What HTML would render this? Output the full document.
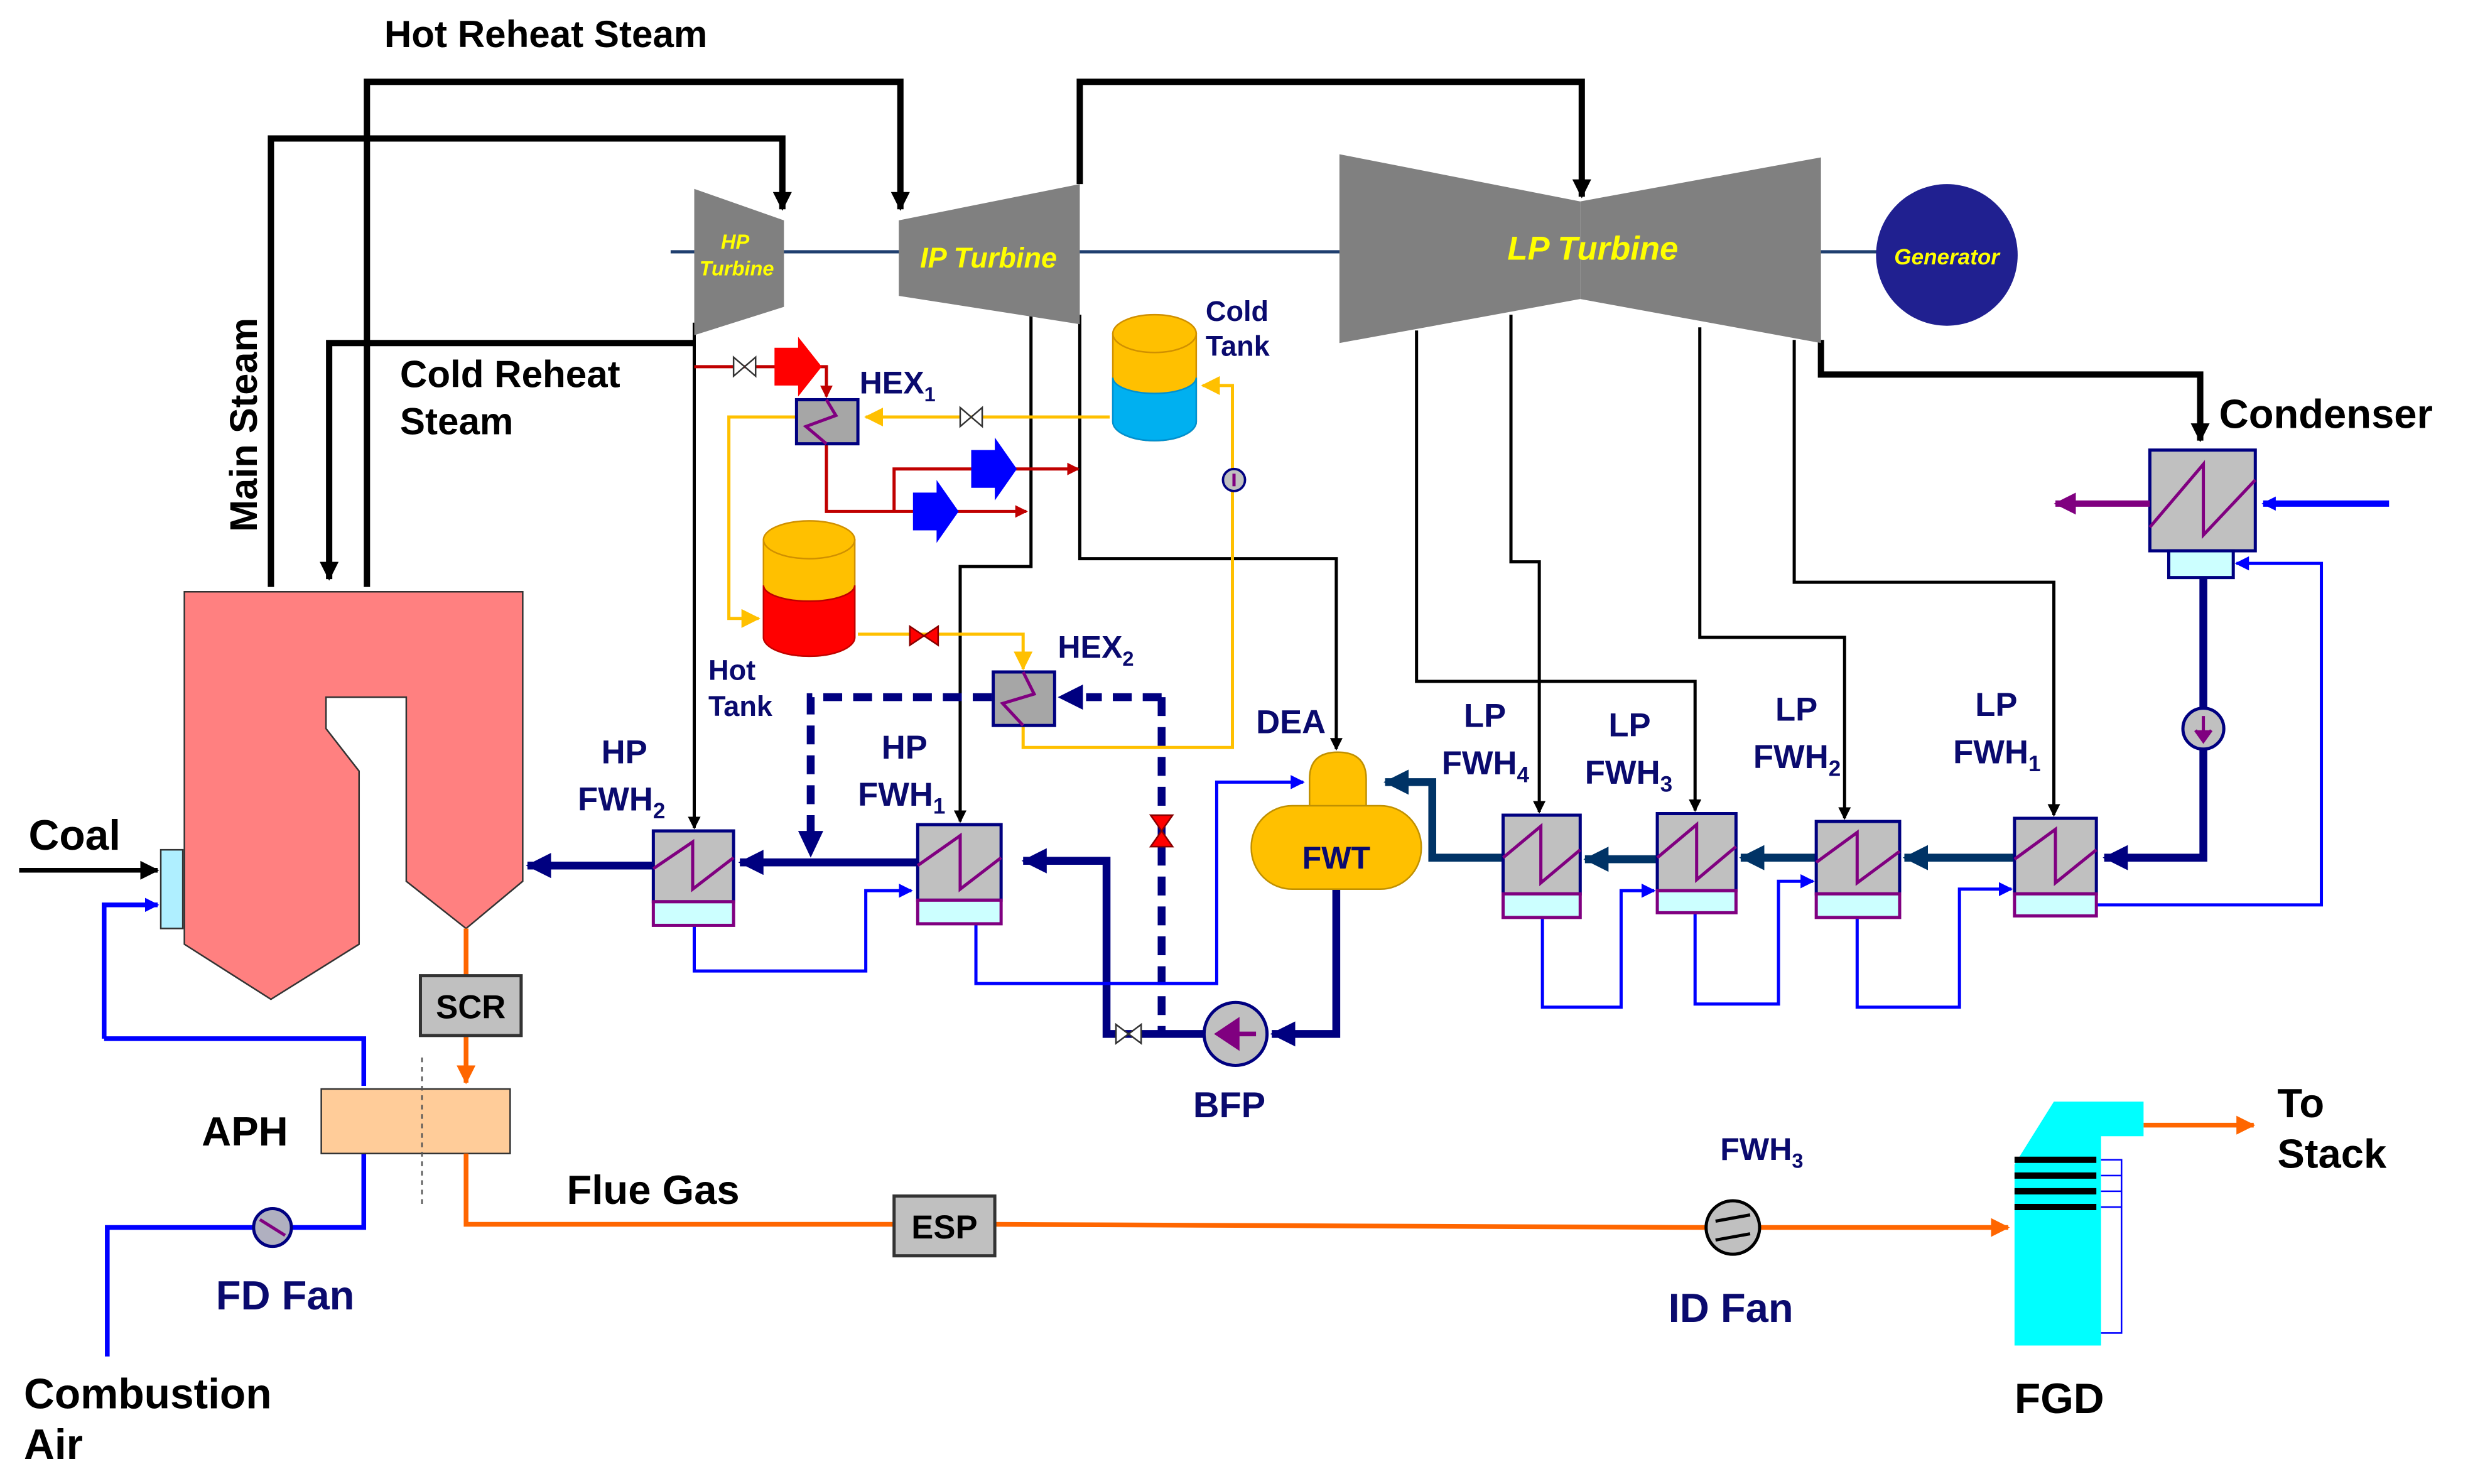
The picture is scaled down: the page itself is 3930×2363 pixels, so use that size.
<!DOCTYPE html>
<html><head><meta charset="utf-8"><style>
html,body{margin:0;padding:0;background:#fff}
svg{display:block}
text{font-family:"Liberation Sans",sans-serif;font-weight:bold}
.n{fill:#0A0A6E}
</style></head><body>
<svg width="3930" height="2363" viewBox="0 0 1568 943" xmlns="http://www.w3.org/2000/svg">
<defs>
<marker id="ab" markerWidth="8" markerHeight="8" refX="7" refY="4" orient="auto" markerUnits="userSpaceOnUse"><path d="M0,0L8,4L0,8z" fill="#000"/></marker>
<marker id="abk" markerWidth="12" markerHeight="12" refX="11" refY="6" orient="auto" markerUnits="userSpaceOnUse"><path d="M0,0L12,6L0,12z" fill="#000"/></marker>
<marker id="an" markerWidth="16" markerHeight="16" refX="15" refY="8" orient="auto" markerUnits="userSpaceOnUse"><path d="M0,0L16,8L0,16z" fill="#000080"/></marker>
<marker id="and" markerWidth="16" markerHeight="16" refX="15" refY="8" orient="auto" markerUnits="userSpaceOnUse"><path d="M0,0L16,8L0,16z" fill="#003366"/></marker>
<marker id="abl" markerWidth="9" markerHeight="9" refX="8" refY="4.5" orient="auto" markerUnits="userSpaceOnUse"><path d="M0,0L9,4.5L0,9z" fill="#0000FF"/></marker>
<marker id="ao" markerWidth="12" markerHeight="12" refX="11" refY="6" orient="auto" markerUnits="userSpaceOnUse"><path d="M0,0L12,6L0,12z" fill="#FF6600"/></marker>
<marker id="ay" markerWidth="12" markerHeight="12" refX="11" refY="6" orient="auto" markerUnits="userSpaceOnUse"><path d="M0,0L12,6L0,12z" fill="#FFC000"/></marker>
<marker id="ar" markerWidth="8" markerHeight="8" refX="7" refY="4" orient="auto" markerUnits="userSpaceOnUse"><path d="M0,0L8,4L0,8z" fill="#C00000"/></marker>
<marker id="ap" markerWidth="14" markerHeight="14" refX="13" refY="7" orient="auto" markerUnits="userSpaceOnUse"><path d="M0,0L14,7L0,14z" fill="#800080"/></marker>
</defs>

<g fill="none" stroke="#000" stroke-width="4">
<path d="M172,373V88H497V133" marker-end="url(#abk)"/>
<path d="M233,373V52H572V133" marker-end="url(#abk)"/>
<path d="M441,218H209V368" marker-end="url(#abk)"/>
<path d="M686,117V52H1005V125" marker-end="url(#abk)"/>
<path d="M1157,216V238H1398V280" marker-end="url(#abk)"/>
</g>
<g fill="none" stroke="#000" stroke-width="2">
<path d="M441,205V526" marker-end="url(#ab)"/>
<path d="M655,195V360H610V522" marker-end="url(#ab)"/>
<path d="M686,200V355H849V476" marker-end="url(#ab)"/>
<path d="M900,210V433H1077V515" marker-end="url(#ab)"/>
<path d="M960,200V357H978V516" marker-end="url(#ab)"/>
<path d="M1080,208V405H1172V520" marker-end="url(#ab)"/>
<path d="M1140,216V370H1305V518" marker-end="url(#ab)"/>
</g>

<line x1="426" y1="160" x2="1195" y2="160" stroke="#1F3F6F" stroke-width="2"/>
<polygon points="441,120 498,140 498,195 441,213" fill="#808080"/>
<polygon points="571,140 686,117 686,206 571,188" fill="#808080"/>
<polygon points="851,98 1004,128 1004,190 851,218" fill="#808080"/>
<polygon points="1004,128 1157,100 1157,218 1004,190" fill="#808080"/>
<text x="467" y="158" font-size="13" fill="#FFFF00" font-style="italic" text-anchor="middle">HP</text>
<text x="468" y="175" font-size="13" fill="#FFFF00" font-style="italic" text-anchor="middle">Turbine</text>
<text x="628" y="170" font-size="18" fill="#FFFF00" font-style="italic" text-anchor="middle">IP Turbine</text>
<text x="1012" y="165" font-size="21" fill="#FFFF00" font-style="italic" text-anchor="middle">LP Turbine</text>
<circle cx="1237" cy="162" r="45" fill="#202090"/>
<text x="1237" y="168" font-size="14" fill="#FFFF00" font-style="italic" text-anchor="middle">Generator</text>

<text x="244" y="30" font-size="24" fill="#000">Hot Reheat Steam</text>
<text x="254" y="246" font-size="24" fill="#000">Cold Reheat</text>
<text x="254" y="276" font-size="24" fill="#000">Steam</text>
<text transform="translate(163,338) rotate(-90)" font-size="24.5" fill="#000">Main Steam</text>

<polygon points="117,376 332,376 332,560 296,590 258,560 258,443 207,443 207,463 228,490 228,600 172,635 117,600" fill="#FF8080" stroke="#333" stroke-width="1"/>
<rect x="102" y="540" width="14" height="50" fill="#AFEFFF" stroke="#333"/>
<path d="M12,553H100" stroke="#000" stroke-width="3" marker-end="url(#abk)"/>
<text x="18" y="540" font-size="27" fill="#000">Coal</text>

<g fill="none" stroke="#0000FF" stroke-width="3">
<path d="M66,660V575H100" marker-end="url(#abl)"/>
<path d="M66,660H231V690"/>
<path d="M68,862V780H161"/>
<path d="M185,780H231V696" marker-end="url(#abl)"/>
</g>
<circle cx="173" cy="780" r="12" fill="#B0B0C0" stroke="#000080" stroke-width="2"/>
<line x1="165" y1="775" x2="181" y2="785" stroke="#800080" stroke-width="2"/>
<rect x="204" y="692" width="120" height="41" fill="#FFCC99" stroke="#333"/>
<line x1="268" y1="672" x2="268" y2="768" stroke="#555" stroke-width="1" stroke-dasharray="3,3"/>
<text x="128" y="728" font-size="26" fill="#000">APH</text>
<text x="137" y="832" font-size="26" class="n">FD Fan</text>
<text x="15" y="895" font-size="27" fill="#000">Combustion</text>
<text x="15" y="927" font-size="27" fill="#000">Air</text>

<g fill="none" stroke="#FF6600" stroke-width="3">
<path d="M296,590V620"/>
<path d="M296,658V688" marker-end="url(#ao)"/>
<path d="M296,733V778H568"/>
<path d="M632,778L1084,780"/>
<path d="M1118,780H1276" marker-end="url(#ao)"/>
<path d="M1362,715H1432" marker-end="url(#ao)"/>
</g>
<rect x="267" y="620" width="64" height="38" fill="#C0C0C0" stroke="#333" stroke-width="2"/>
<text x="299" y="647" font-size="21" fill="#000" text-anchor="middle">SCR</text>
<rect x="568" y="760" width="64" height="38" fill="#C0C0C0" stroke="#333" stroke-width="2"/>
<text x="600" y="787" font-size="21" fill="#000" text-anchor="middle">ESP</text>
<text x="360" y="765" font-size="26" fill="#000">Flue Gas</text>
<circle cx="1101" cy="780" r="17" fill="#C0C0C0" stroke="#000" stroke-width="2"/>
<path d="M1090,776L1112,772M1090,788L1112,784" stroke="#000" stroke-width="2"/>
<text x="1060" y="840" font-size="26" class="n">ID Fan</text>
<text x="1093" y="737" font-size="20" class="n">FWH<tspan font-size="13" dy="5">3</tspan></text>

<polygon points="1280,740 1305,700 1362,700 1362,722 1335,722 1335,855 1280,855" fill="#00FFFF"/>
<g stroke="#000" stroke-width="4"><line x1="1280" y1="737" x2="1332" y2="737"/><line x1="1280" y1="747" x2="1332" y2="747"/><line x1="1280" y1="757" x2="1332" y2="757"/><line x1="1280" y1="767" x2="1332" y2="767"/></g>
<path d="M1335,847H1348V737H1335M1335,747H1348M1335,757H1348M1335,767H1348" fill="none" stroke="#0000FF" stroke-width="1"/>
<text x="1280" y="898" font-size="27" fill="#000">FGD</text>
<text x="1447" y="710" font-size="26" fill="#000">To</text>
<text x="1447" y="742" font-size="26" fill="#000">Stack</text>

<g fill="none" stroke-width="5">
<path d="M1400,367V545H1337" stroke="#000080" marker-end="url(#an)"/>
<path d="M1280,545H1210" stroke="#003366" marker-end="url(#and)"/>
<path d="M1154,545H1106" stroke="#003366" marker-end="url(#and)"/>
<path d="M1053,546H1007" stroke="#003366" marker-end="url(#and)"/>
<path d="M955,545H910V497H880" stroke="#003366" marker-end="url(#and)"/>
<path d="M849,565V657H808" stroke="#000080" marker-end="url(#an)"/>
<path d="M765,657H703V547H650" stroke="#000080" marker-end="url(#an)"/>
<path d="M583,548H470" stroke="#000080" marker-end="url(#an)"/>
<path d="M415,550H335" stroke="#000080" marker-end="url(#an)"/>
</g>
<g fill="none" stroke="#000080" stroke-width="5" stroke-dasharray="12,7">
<path d="M630,443H515V530"/>
<path d="M738,443V657"/>
<path d="M738,443H690"/>
</g>
<path d="M507,528L515,545L523,528z" fill="#000080"/>
<path d="M688,435L672,443L688,451z" fill="#000080"/>
<path d="M731,518L745,518L738,528L745,538L731,538L738,528z" fill="#FF0000" stroke="#800" stroke-width="1"/>
<path d="M709,651L709,663L717,657L725,651L725,663L717,657z" fill="#fff" stroke="#333" stroke-width="1"/>

<g fill="none" stroke="#0000FF" stroke-width="2">
<path d="M441,588V617H550V566H579" marker-end="url(#abl)"/>
<path d="M620,587V625H773V497H828" marker-end="url(#abl)"/>
<path d="M980,583V640H1030V566H1051" marker-end="url(#abl)"/>
<path d="M1077,580V638H1130V560H1152" marker-end="url(#abl)"/>
<path d="M1180,583V640H1245V565H1278" marker-end="url(#abl)"/>
<path d="M1332,575H1475V358H1421" marker-end="url(#abl)"/>
</g>

<g stroke-width="2">
<rect x="415" y="528" width="51" height="45" fill="#C0C0C0" stroke="#000080"/><rect x="415" y="573" width="51" height="15" fill="#CCFFFF" stroke="#800080"/>
<rect x="583" y="524" width="53" height="48" fill="#C0C0C0" stroke="#000080"/><rect x="583" y="572" width="53" height="15" fill="#CCFFFF" stroke="#800080"/>
<rect x="955" y="518" width="49" height="50" fill="#C0C0C0" stroke="#000080"/><rect x="955" y="568" width="49" height="15" fill="#CCFFFF" stroke="#800080"/>
<rect x="1053" y="517" width="50" height="49" fill="#C0C0C0" stroke="#000080"/><rect x="1053" y="566" width="50" height="14" fill="#CCFFFF" stroke="#800080"/>
<rect x="1154" y="522" width="53" height="46" fill="#C0C0C0" stroke="#000080"/><rect x="1154" y="568" width="53" height="15" fill="#CCFFFF" stroke="#800080"/>
<rect x="1280" y="520" width="52" height="48" fill="#C0C0C0" stroke="#000080"/><rect x="1280" y="568" width="52" height="14" fill="#CCFFFF" stroke="#800080"/>
<rect x="1366" y="286" width="67" height="64" fill="#C0C0C0" stroke="#000080"/><rect x="1378" y="350" width="41" height="17" fill="#CCFFFF" stroke="#000080"/>
</g>
<g fill="none" stroke="#800080" stroke-width="2">
<path d="M415,552L440,535V565L466,545"/>
<path d="M583,550L610,531V565L636,545"/>
<path d="M955,545L979,525V561L1004,540"/>
<path d="M1053,545L1078,524V559L1103,538"/>
<path d="M1154,548L1180,529V561L1207,541"/>
<path d="M1280,546L1306,527V561L1332,540"/>
<path d="M1366,335L1400,295V340L1433,305"/>
</g>
<path d="M1518,320H1438" stroke="#0000FF" stroke-width="4" marker-end="url(#abl)"/>
<path d="M1366,320H1306" stroke="#800080" stroke-width="4" marker-end="url(#ap)"/>
<text x="1410" y="272" font-size="26" fill="#000">Condenser</text>
<ellipse cx="1400" cy="463" rx="13" ry="13" fill="#C0C0C0" stroke="#000080" stroke-width="2"/>
<path d="M1400,455V468M1395,464L1400,471L1405,464" stroke="#800080" stroke-width="2" fill="#800080"/>

<g font-size="21" class="n">
<text x="382" y="485">HP</text><text x="367" y="515">FWH<tspan font-size="14" dy="5">2</tspan></text>
<text x="560" y="482">HP</text><text x="545" y="512">FWH<tspan font-size="14" dy="5">1</tspan></text>
<text x="930" y="462">LP</text><text x="916" y="492">FWH<tspan font-size="14" dy="5">4</tspan></text>
<text x="1022" y="468">LP</text><text x="1007" y="498">FWH<tspan font-size="14" dy="5">3</tspan></text>
<text x="1128" y="458">LP</text><text x="1114" y="488">FWH<tspan font-size="14" dy="5">2</tspan></text>
<text x="1255" y="455">LP</text><text x="1241" y="485">FWH<tspan font-size="14" dy="5">1</tspan></text>
<text x="798" y="466">DEA</text>
<text x="758" y="710" font-size="23">BFP</text>
</g>

<path d="M832,520V495Q832,478 850,478Q868,478 868,495V520z" fill="#FFC000" stroke="#C09000"/>
<rect x="795" y="512" width="108" height="53" rx="26" fill="#FFC000" stroke="#C09000"/>
<text x="849" y="552" font-size="20" class="n" text-anchor="middle">FWT</text>
<circle cx="785" cy="657" r="20" fill="#C0C0C0" stroke="#000080" stroke-width="2"/>
<path d="M798,657H778M786,649L774,657L786,665z" stroke="#800080" stroke-width="3" fill="#800080"/>

<g fill="none" stroke="#FFC000" stroke-width="2">
<path d="M705,265H550" marker-end="url(#ay)"/>
<path d="M506,265H463V393H482" marker-end="url(#ay)"/>
<path d="M545,403H650V425" marker-end="url(#ay)"/>
<path d="M650,461V475H783V245H764" marker-end="url(#ay)"/>
</g>
<g fill="none" stroke="#C00000" stroke-width="2">
<path d="M441,233H525V252" marker-end="url(#ar)"/>
<path d="M525,282V325H652" marker-end="url(#ar)"/>
<path d="M568,325V298H685" marker-end="url(#ar)"/>
</g>
<path d="M492,221H507V214L522,233L507,252V245H492z" fill="#FF0000"/>
<path d="M580,313H595V305L609,325L595,345V337H580z" fill="#0000FF"/>
<path d="M617,286H632V278L646,298L632,318V310H617z" fill="#0000FF"/>
<path d="M466,227L466,239L473,233L480,227L480,239L473,233z" fill="#fff" stroke="#333" stroke-width="1"/>
<path d="M610,259L610,271L617,265L624,259L624,271L617,265z" fill="#fff" stroke="#333" stroke-width="1"/>
<path d="M578,398L578,410L587,404L596,398L596,410L587,404z" fill="#FF0000" stroke="#800" stroke-width="1"/>
<circle cx="784" cy="305" r="7" fill="#C0C0C0" stroke="#000080" stroke-width="1.5"/>
<path d="M784,309V301" stroke="#800080" stroke-width="2"/>
<rect x="506" y="254" width="39" height="28" fill="#A6A6A6" stroke="#000080" stroke-width="2"/>
<path d="M525,254L531,264L512,271L525,282" fill="none" stroke="#800080" stroke-width="2"/>
<rect x="631" y="427" width="39" height="34" fill="#A6A6A6" stroke="#000080" stroke-width="2"/>
<path d="M650,427L657,441L637,447L650,461" fill="none" stroke="#800080" stroke-width="2"/>
<text x="546" y="250" font-size="20" class="n">HEX<tspan font-size="13" dy="5">1</tspan></text>
<text x="672" y="418" font-size="20" class="n">HEX<tspan font-size="13" dy="5">2</tspan></text>
<path d="M707,212V268A26.5,12 0 0 0 760,268V212z" fill="#FFC000" stroke="#D09000"/>
<path d="M707,240V268A26.5,12 0 0 0 760,268V240A26.5,10 0 0 1 707,240z" fill="#00B0F0" stroke="#0090D0"/>
<ellipse cx="733.5" cy="212" rx="26.5" ry="12" fill="#FFC000" stroke="#D09000"/>
<path d="M485,343V405A29,12 0 0 0 543,405V343z" fill="#FFC000" stroke="#D09000"/>
<path d="M485,372V405A29,12 0 0 0 543,405V372A29,10 0 0 1 485,372z" fill="#FF0000" stroke="#C00000"/>
<ellipse cx="514" cy="343" rx="29" ry="12" fill="#FFC000" stroke="#D09000"/>
<text x="766" y="204" font-size="18" class="n">Cold</text>
<text x="766" y="226" font-size="18" class="n">Tank</text>
<text x="450" y="432" font-size="18" class="n">Hot</text>
<text x="450" y="455" font-size="18" class="n">Tank</text>
</svg>
</body></html>
